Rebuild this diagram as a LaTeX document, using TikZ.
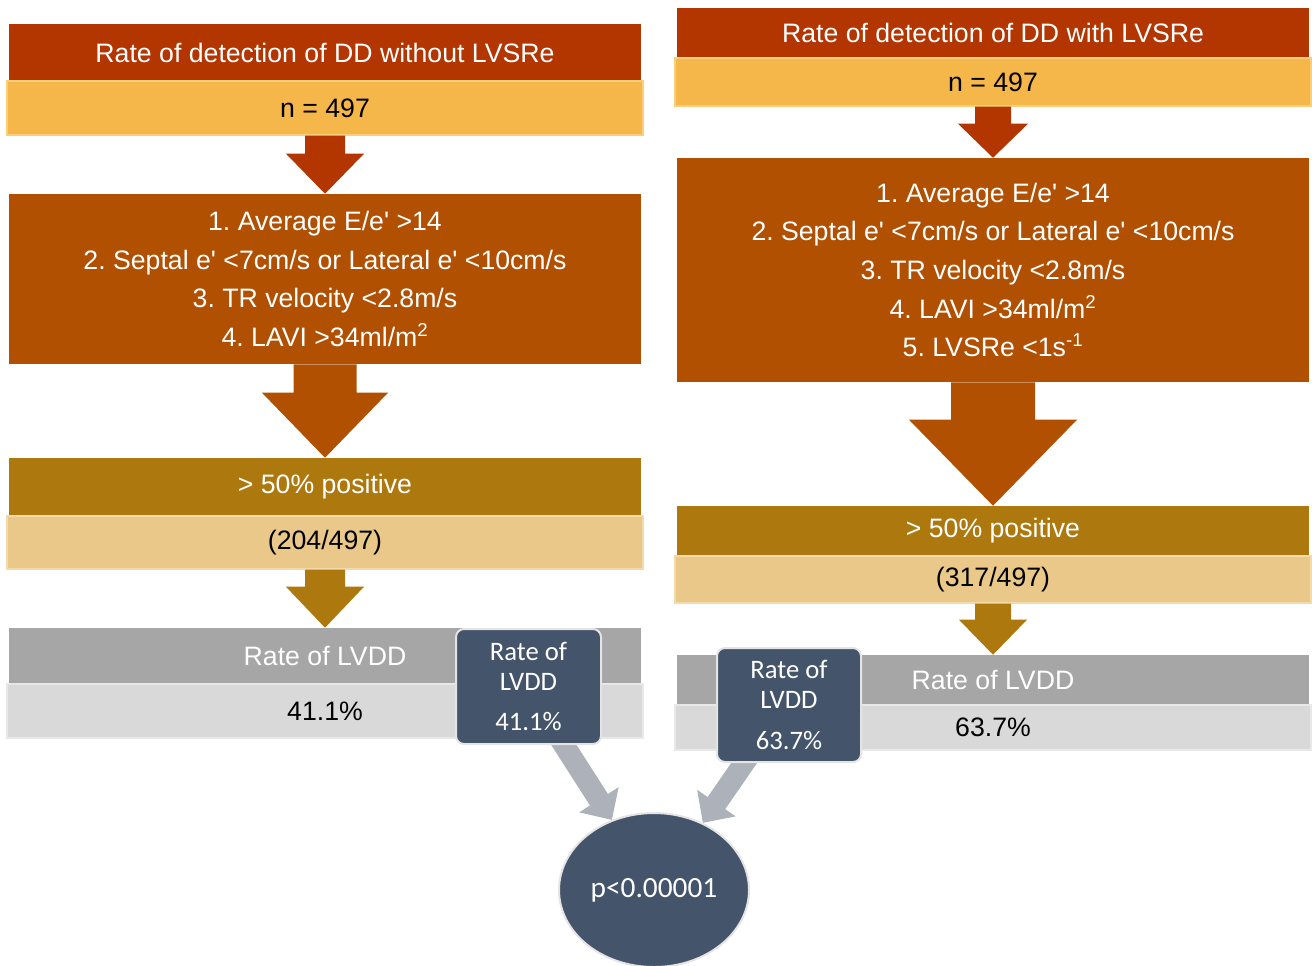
\documentclass[tikz,border=0pt]{standalone}
\usepackage{fontspec}
\newfontfamily\arialf{Liberation Sans}
\newfontfamily\calibf{Carlito}
\usetikzlibrary{calc,arrows.meta,shapes.geometric}
\pgfdeclarelayer{bg}
\pgfsetlayers{bg,main}
\frenchspacing
\definecolor{chdr}{RGB}{179,53,0}
\definecolor{cnbox}{RGB}{245,183,74}
\definecolor{cnboxedge}{RGB}{250,206,125}
\definecolor{ccrit}{RGB}{176,80,0}
\definecolor{cpos}{RGB}{173,120,14}
\definecolor{cfrac}{RGB}{233,200,138}
\definecolor{cfracedge}{RGB}{242,218,170}
\definecolor{cgbox}{RGB}{166,166,166}
\definecolor{clbox}{RGB}{217,217,217}
\definecolor{clboxedge}{RGB}{232,232,232}
\definecolor{cnavy}{RGB}{68,84,106}
\definecolor{cnavyedge}{RGB}{228,228,228}
\definecolor{cagray}{RGB}{173,178,186}
% box node from pixel corners: style, name, x1, y1, x2, y2, text
\newcommand\boxnode[7]{%
  \node[#1, minimum width={(#5-#3)*0.75pt}, minimum height={(#6-#4)*0.75pt}] (#2) at ({(#3+#5)/2},{(#4+#6)/2}) {#7};}
\newcommand\dnarrow[6]{%
  \fill[fill=#6] ($(#1.south)+(-#3,0)$) -- ($(#1.south)+(#3,0)$) -- ($(#2.north)+(#3,-#5)$) -- ($(#2.north)+(#4,-#5)$) -- (#2.north) -- ($(#2.north)+(-#4,-#5)$) -- ($(#2.north)+(-#3,-#5)$) -- cycle;}
\begin{document}
\begin{tikzpicture}[x=0.75pt,y=-0.75pt,
  band/.style={inner sep=0pt, align=center, font=\arialf\fontsize{20}{29}\selectfont\frenchspacing},
  hdrbox/.style={band, fill=chdr, text=white},
  nbx/.style={band, fill=cnbox, draw=cnboxedge, line width=1pt, text=black},
  critbox/.style={band, fill=ccrit, text=white},
  posbox/.style={band, fill=cpos, text=white},
  fracbox/.style={band, fill=cfrac, draw=cfracedge, line width=1pt, text=black},
  graybox/.style={band, fill=cgbox, text=white},
  lgraybox/.style={band, fill=clbox, draw=clboxedge, line width=1pt, text=black},
  smallbox/.style={inner sep=0pt, align=center, fill=cnavy, draw=cnavyedge, line width=1.5pt, rounded corners=6pt, text=white, font=\calibf\fontsize{20}{22.5}\selectfont},
  pval/.style={ellipse, inner sep=0pt, fill=cnavy, draw=cnavyedge, line width=1.5pt, text=white, font=\calibf\fontsize{22}{26}\selectfont, minimum width=190*0.75pt, minimum height=154*0.75pt},
  garrow/.style={draw=cagray, line width=16pt, -{Triangle[width=34pt,length=18pt]}}
]
\useasboundingbox (0,0) rectangle (1312,965);

% left column
\boxnode{hdrbox}{lh}{9}{24}{641}{81}{Rate of detection of DD without LVSRe}
\boxnode{nbx}{ln}{7}{81}{643}{135}{n = 497}
\boxnode{critbox}{lc}{9}{194}{641}{364}{1. Average E/e' >14\\2. Septal e' <7cm/s or Lateral e' <10cm/s\\3. TR velocity <2.8m/s\\4. LAVI >34ml/m\textsuperscript{2}}
\boxnode{posbox}{lp}{9}{458}{641}{516}{> 50\% positive}
\boxnode{fracbox}{lf}{7}{516}{643}{569}{(204/497)}
\boxnode{graybox}{lg}{9}{628}{641}{684}{Rate of LVDD}
\boxnode{lgraybox}{ll}{7}{684}{643}{738}{41.1\%}
\boxnode{smallbox}{lsm}{456}{629}{601}{744}{Rate of\\LVDD\\[8pt]41.1\%}

% right column
\boxnode{hdrbox}{rh}{677}{8}{1309}{58}{Rate of detection of DD with LVSRe}
\boxnode{nbx}{rn}{675}{58}{1311}{106}{n = 497}
\boxnode{critbox}{rc}{677}{158}{1309}{382}{1. Average E/e' >14\\2. Septal e' <7cm/s or Lateral e' <10cm/s\\3. TR velocity <2.8m/s\\4. LAVI >34ml/m\textsuperscript{2}\\5. LVSRe <1s\textsuperscript{-1}}
\boxnode{posbox}{rp}{677}{506}{1309}{556}{> 50\% positive}
\boxnode{fracbox}{rf}{675}{556}{1311}{603}{(317/497)}
\boxnode{graybox}{rg}{677}{655}{1309}{705}{Rate of LVDD}
\boxnode{lgraybox}{rl}{675}{705}{1311}{750}{63.7\%}
\boxnode{smallbox}{rsm}{717}{648}{861}{762}{Rate of\\LVDD\\[8pt]63.7\%}

% p-value
\node[pval] (circ) at (654,890) {p<0.00001};

% block arrows
\dnarrow{ln}{lc}{20}{39}{40}{chdr}
\dnarrow{lc}{lp}{31.5}{63}{65}{ccrit}
\dnarrow{lf}{lg}{20}{39}{41}{cpos}
\dnarrow{rn}{rc}{18}{35}{34}{chdr}
\dnarrow{rc}{rp}{42}{84}{86}{ccrit}
\dnarrow{rf}{rg}{18}{34}{35}{cpos}

% gray arrows
\begin{pgfonlayer}{bg}
\draw[garrow] ($(lsm.south)+(29,-10)$) -- (circ.121);
\draw[garrow] ($(rsm.south)+(-38,-10)$) -- (circ.54);
\end{pgfonlayer}
\end{tikzpicture}
\end{document}
